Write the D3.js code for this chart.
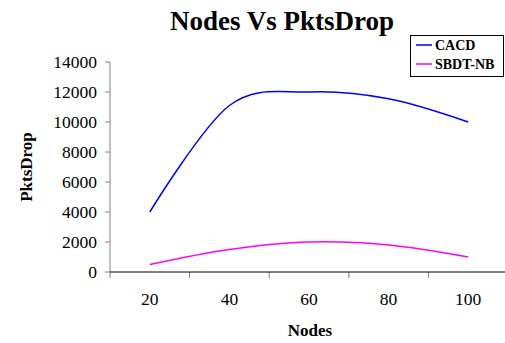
<!DOCTYPE html>
<html lang="en">
<head>
    <meta charset="UTF-8">
    <title>Nodes Vs PktsDrop</title>
    <script src="https://d3js.org/d3.v7.min.js"></script>
    <style>
        body {
            margin: 0;
            background: #ffffff;
        }
        svg {
            font-family: "Liberation Serif", "Times New Roman", Times, serif;
        }
        svg text {
            fill: #000;
        }
        .title { font-size: 27px; font-weight: bold; }
        .axis-label { font-size: 17px; font-weight: bold; }
        .tick-label { font-size: 17.5px; }
        .legend-text { font-size: 14px; font-weight: bold; }
    </style>
</head>
<body>
    <div id="chart"></div>

    <script>
        const nodes = [20, 40, 60, 80, 100];
        const cacd = [4000, 11100, 12000, 11550, 10000];
        const sbdtnb = [500, 1500, 2000, 1800, 1000];
        const yTicks = [0, 2000, 4000, 6000, 8000, 10000, 12000, 14000];

        const seriesList = [
            { name: "CACD", values: cacd, color: "#0000ff" },
            { name: "SBDT-NB", values: sbdtnb, color: "#ff00ff" }
        ];

        const width = 505;
        const height = 343;
        const plotLeft = 110, plotRight = 508, plotTop = 62, plotBottom = 272;

        const svg = d3.select("#chart")
            .append("svg")
            .attr("width", width)
            .attr("height", height)
            .attr("font-family", "Liberation Serif, serif");

        const x = d3.scaleBand()
            .domain(nodes)
            .range([plotLeft, plotRight]);

        const y = d3.scaleLinear()
            .domain([0, 14000])
            .range([plotBottom, plotTop]);

        // title
        svg.append("text")
            .attr("class", "title")
            .attr("x", 282)
            .attr("y", 30)
            .attr("text-anchor", "middle")
            .text("Nodes Vs PktsDrop");

        // y axis
        svg.append("line")
            .attr("x1", plotLeft).attr("x2", plotLeft)
            .attr("y1", y(14000)).attr("y2", plotBottom)
            .attr("stroke", "#808080");

        svg.selectAll(".ytick")
            .data(yTicks)
            .join("line")
            .attr("class", "ytick")
            .attr("x1", plotLeft - 5).attr("x2", plotLeft)
            .attr("y1", d => y(d)).attr("y2", d => y(d))
            .attr("stroke", "#808080");

        svg.selectAll(".ylab")
            .data(yTicks)
            .join("text")
            .attr("class", "tick-label ylab")
            .attr("x", plotLeft - 13)
            .attr("y", d => y(d))
            .attr("dy", "0.35em")
            .attr("text-anchor", "end")
            .text(d => d);

        // x axis
        svg.selectAll(".xtick")
            .data(nodes)
            .join("line")
            .attr("class", "xtick")
            .attr("x1", d => x(d)).attr("x2", d => x(d))
            .attr("y1", plotBottom).attr("y2", plotBottom + 6)
            .attr("stroke", "#808080");

        svg.append("line")
            .attr("x1", plotLeft).attr("x2", plotRight)
            .attr("y1", plotBottom).attr("y2", plotBottom)
            .attr("stroke", "#000");

        svg.selectAll(".xlab")
            .data(nodes)
            .join("text")
            .attr("class", "tick-label xlab")
            .attr("x", d => x(d) + x.bandwidth() / 2)
            .attr("y", 305)
            .attr("text-anchor", "middle")
            .text(d => d);

        svg.append("text")
            .attr("class", "axis-label")
            .attr("x", 310)
            .attr("y", 336)
            .attr("text-anchor", "middle")
            .text("Nodes");

        svg.append("text")
            .attr("class", "axis-label")
            .attr("transform", "translate(32,167) rotate(-90)")
            .attr("text-anchor", "middle")
            .text("PktsDrop");

        // lines
        const line = d3.line()
            .x((d, i) => x(nodes[i]) + x.bandwidth() / 2)
            .y(d => y(d))
            .curve(d3.curveCardinal.tension(0));

        svg.selectAll(".series")
            .data(seriesList)
            .join("path")
            .attr("class", "series")
            .attr("d", d => line(d.values))
            .attr("fill", "none")
            .attr("stroke", d => d.color)
            .attr("stroke-width", 1.5);

        // legend
        const legend = svg.append("g").attr("transform", "translate(410,35)");
        legend.append("rect")
            .attr("x", 0.5).attr("y", 0.5)
            .attr("width", 93).attr("height", 41)
            .attr("fill", "#fff")
            .attr("stroke", "#000");

        const items = legend.selectAll(".item")
            .data(seriesList)
            .join("g")
            .attr("class", "item")
            .attr("transform", (d, i) => `translate(0,${10 + i * 19})`);

        items.append("line")
            .attr("x1", 6).attr("x2", 22)
            .attr("y1", 0).attr("y2", 0)
            .attr("stroke", d => d.color)
            .attr("stroke-width", 1.5);

        items.append("text")
            .attr("class", "legend-text")
            .attr("x", 25)
            .attr("dy", "0.35em")
            .text(d => d.name);
    </script>
</body>
</html>
